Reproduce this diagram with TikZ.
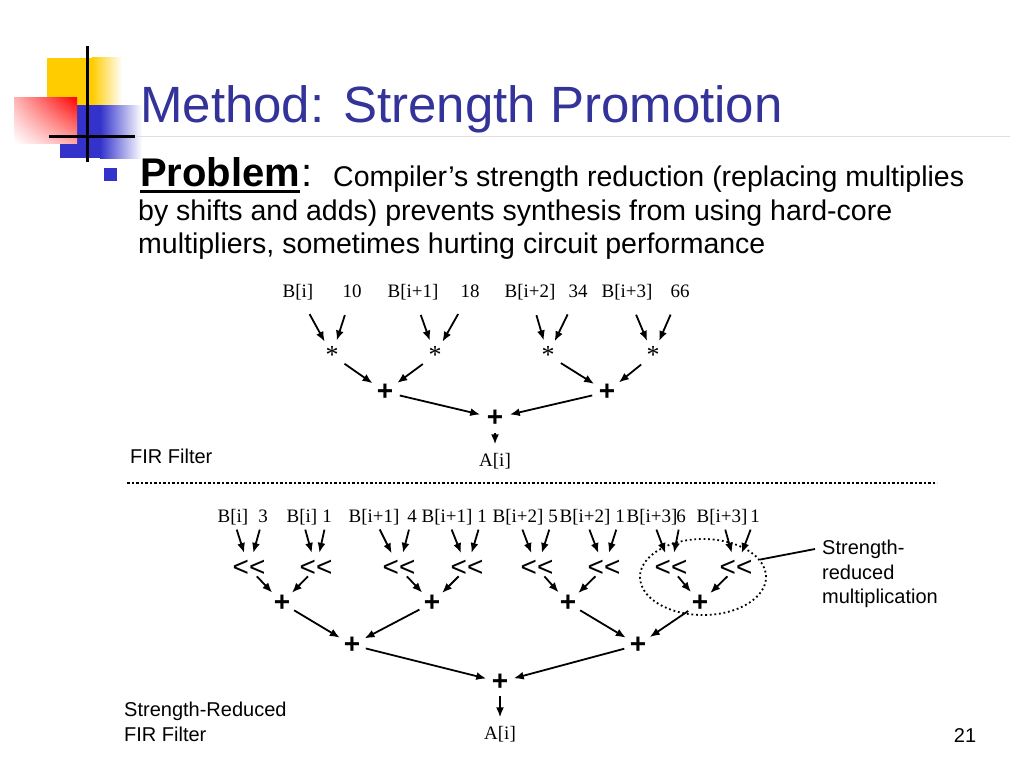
\documentclass[tikz,border=0pt]{standalone}
\usepackage{fontspec}
\setmainfont{Liberation Sans}
\newfontfamily\timesfont{Liberation Serif}
\usetikzlibrary{arrows.meta,positioning,shapes.geometric,shadings}
\definecolor{titleblue}{RGB}{51,51,153}
\definecolor{logoblue}{RGB}{51,51,204}
\definecolor{logoyellow}{RGB}{255,204,0}
\tikzset{inp/.style={font=\timesfont\fontsize{19}{19}\selectfont,text height=13pt,text depth=4pt,inner sep=1pt},
  mul/.style={circle,minimum size=30pt,inner sep=0pt,font=\timesfont\fontsize{26}{26}\selectfont},
  add/.style={circle,minimum size=30pt,inner sep=0pt,font=\fontsize{28}{28}\selectfont\bfseries},
  shl/.style={rectangle,inner sep=0pt,font=\fontsize{28}{28}\selectfont},
  addlow/.style={circle,minimum size=28pt,inner sep=0pt,font=\fontsize{28}{28}\selectfont\bfseries},
  arr/.style={-{Latex[length=10pt,width=8pt]},line width=1.8pt},
  feed/.style={arr,shorten <=13pt},
  feedlow/.style={arr,shorten <=2pt,shorten >=7pt},
  outp/.style={arr,shorten >=8pt},
  txt/.style={font=\fontsize{20}{24.5}\selectfont,inner sep=0pt},
  dots/.style={line width=1.8pt,dash pattern=on 1.8pt off 2.8pt}}
\begin{document}
\begin{tikzpicture}[x=1pt,y=-1pt]
\useasboundingbox (0,0) rectangle (1024,768);
% logo
\fill[logoyellow] (47,58) rectangle (92,105);
\shade[left color=logoyellow,right color=white] (92,58) rectangle (122,105);
\fill[logoblue] (60,105) rectangle (100,158);
\shade[left color=logoblue,right color=white] (100,105) rectangle (142,158);
\shade[upper left=red!30,upper right=red,lower left=white,lower right=red!35] (14,97) rectangle (77,143);
\draw[line width=3pt] (87,46) -- (87,162);
\draw[line width=3pt] (49,136) -- (135,136);
\draw[gray!25,line width=1pt] (135,136) -- (1010,136);
% title and text
\node[anchor=base west,inner sep=0pt,text=titleblue,font=\fontsize{51}{60}\selectfont] (title) at (140,122) {Method: Strength Promotion};
\fill[logoblue] (104,168) rectangle (117,181);
\node[anchor=base west,inner sep=0pt,font=\fontsize{40}{48}\selectfont\bfseries] (prob) at (140,186) {Problem};
\draw[line width=3pt] ([yshift=-5pt]prob.base west) -- ([yshift=-5pt]prob.base east);
\node[inner sep=0pt,font=\fontsize{40}{48}\selectfont,right=1pt of prob.base east,anchor=base west] (colon) {:};
\node[anchor=base west,inner sep=0pt,font=\fontsize{28.5}{33}\selectfont] (line1) at (333,186) {Compiler’s strength reduction (replacing multiplies};
\node[anchor=base west,inner sep=0pt,font=\fontsize{28.5}{33}\selectfont] (line2) at (138,220) {by shifts and adds) prevents synthesis from using hard-core};
\node[anchor=base west,inner sep=0pt,font=\fontsize{28.5}{33}\selectfont] (line3) at (138,253) {multipliers, sometimes hurting circuit performance};
% FIR filter
\node[inp] (b0) at (298,293) {B[i]};
\node[inp] (k0) at (352,293) {10};
\node[inp] (b1) at (413,293) {B[i+1]};
\node[inp] (k1) at (470,293) {18};
\node[inp] (b2) at (530,293) {B[i+2]};
\node[inp] (k2) at (578,293) {34};
\node[inp] (b3) at (627,293) {B[i+3]};
\node[inp] (k3) at (680,293) {66};
\node[mul] (m0) at (332,355) {*};
\node[mul] (m1) at (435,355) {*};
\node[mul] (m2) at (548,355) {*};
\node[mul] (m3) at (653,355) {*};
\node[add] (s0) at (385,392) {+};
\node[add] (s1) at (607,392) {+};
\node[add] (r0) at (495,418) {+};
\node[inp] (a0) at (495,462) {A[i]};
\foreach \i in {0,...,3} {
  \draw[feed] (b\i) -- (m\i);
  \draw[feed] (k\i) -- (m\i);
}
\draw[arr] (m0) -- (s0);
\draw[arr] (m1) -- (s0);
\draw[arr] (m2) -- (s1);
\draw[arr] (m3) -- (s1);
\draw[arr] (s0) -- (r0);
\draw[arr] (s1) -- (r0);
\draw[outp] (r0) -- (a0);
\node[txt,anchor=base west] (fir) at (130,463) {FIR Filter};
\draw[line width=2.5pt,dash pattern=on 2.5pt off 2pt] (127,483) -- (937,483);
% strength-reduced FIR filter
\foreach \x/\t [count=\i from 0] in {233/B[i],263/3,302/B[i],327/1,374/B[i+1],412/4,447/B[i+1],482/1,
  518/B[i+2],553/5,585/B[i+2],620/1,652/B[i+3],681/6,722/B[i+3],755/1}
  \node[inp] (q\i) at (\x,518) {\t};
\foreach \x [count=\i from 0] in {249,316,399,467,537,604,671,736}
  \node[shl] (h\i) at (\x,568) {<{}<};
\foreach \x [count=\i from 0] in {282,432,568,700}
  \node[addlow] (g\i) at (\x,603) {+};
\node[addlow] (f0) at (352,645) {+};
\node[addlow] (f1) at (638,645) {+};
\node[addlow] (r1) at (500,682) {+};
\node[inp] (a1) at (500,735) {A[i]};
\foreach \i [evaluate=\i as \j using int(2*\i),evaluate=\i as \k using int(2*\i+1)] in {0,...,7} {
  \draw[feedlow] (q\j) -- (h\i);
  \draw[feedlow] (q\k) -- (h\i);
}
\foreach \i [evaluate=\i as \j using int(\i/2)] in {0,...,7}
  \draw[arr] (h\i) -- (g\j);
\foreach \i [evaluate=\i as \j using int(\i/2)] in {0,...,3}
  \draw[arr] (g\i) -- (f\j);
\draw[arr] (f0) -- (r1);
\draw[arr] (f1) -- (r1);
\draw[outp] (r1) -- (a1);
\node[ellipse,draw,dots,minimum width=126pt,minimum height=76pt,inner sep=0pt] (grp) at (703,577) {};
\node[txt,anchor=north west,align=left] (note) at (822,540) {Strength-\\reduced\\multiplication};
\coordinate (tip) at (815,549);
\draw[line width=1.8pt] (grp.17) -- (tip);
\node[txt,anchor=north west,align=left] (srfir) at (124,702) {Strength-Reduced\\FIR Filter};
\node[txt] (page) at (965,736) {21};
\end{tikzpicture}
\end{document}
